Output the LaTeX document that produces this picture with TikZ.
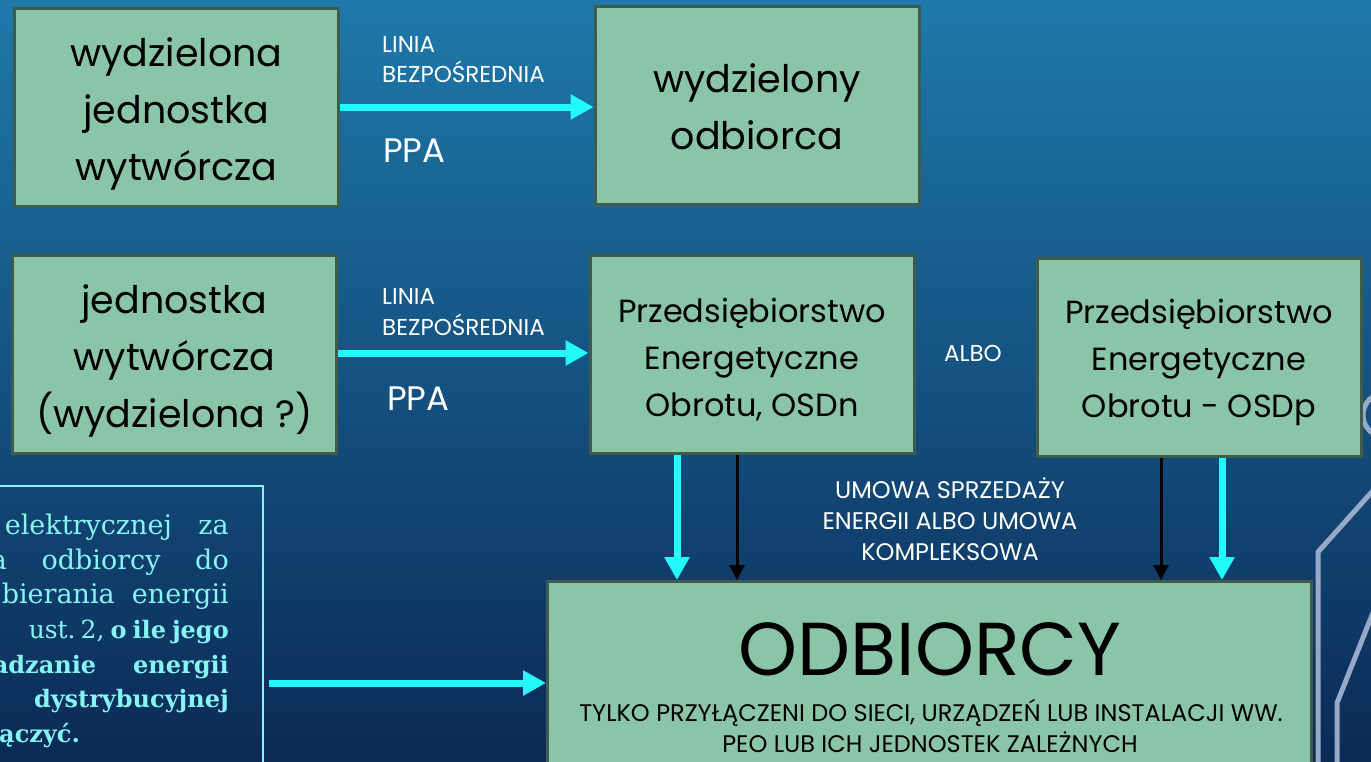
\documentclass[tikz,border=0pt]{standalone}
\usepackage{fontspec}
\newfontfamily\pop{Poppins}
\newfontfamily\serifL{DejaVu Serif}
\usetikzlibrary{arrows.meta,calc}
\definecolor{bgtop}{HTML}{1E79AA}
\definecolor{bgbot}{HTML}{0B2A56}
\definecolor{boxfill}{HTML}{8BC5A8}
\definecolor{boxline}{HTML}{3F5B4B}
\definecolor{cyanarr}{HTML}{22FAFC}
\definecolor{lbox}{HTML}{86F4F2}
\definecolor{deco}{HTML}{98A9C7}
\newcommand{\tstr}[1]{\rule{0pt}{#1}}
\begin{document}
\begin{tikzpicture}[x=1pt,y=-1pt,
  gbox/.style={draw=boxline,fill=boxfill,line width=3pt,inner sep=0pt,align=center,text=black,minimum width=324pt,minimum height=198pt},
  bigtxt/.style={font=\pop\fontsize{38}{57}\selectfont},
  midtxt/.style={font=\pop\fontsize{32}{47}\selectfont},
  lbl/.style={text=white,inner sep=0pt,font=\pop\fontsize{23}{30}\selectfont},
  umowa/.style={text=white,inner sep=0pt,font=\pop\fontsize{24}{30}\selectfont},
  ppa/.style={text=white,inner sep=0pt,font=\pop\fontsize{34}{40}\selectfont},
  subtxt/.style={text=black,inner sep=0pt,font=\pop\fontsize{24}{31}\selectfont},
  sertxt/.style={text=lbox,inner sep=0pt,font=\serifL\fontsize{27}{34}\selectfont,anchor=base east},
  serbold/.style={font=\serifL\bfseries\fontsize{24}{34}\selectfont},
  cyarrow/.style={draw=cyanarr,line width=7pt,-{Triangle[length=23pt,width=24pt]}},
  bkarrow/.style={draw=black,line width=3pt,-{Triangle[length=15pt,width=15pt]}},
  decoline/.style={draw=deco,line width=5pt}]
\useasboundingbox (0,0) rectangle (1371,761);
\shade[top color=bgtop,bottom color=bgbot] (0,0) rectangle (1371,761);
% decorations at the right edge
\draw[decoline] (1378,485) -- (1318,552) -- (1318,775);
\draw[decoline] (1378,600) -- (1337,703) -- (1337,775);
\draw[decoline] (1385,415) circle (22pt);
% boxes
\node[gbox,bigtxt] (A) at (176.5,107.5) {\tstr{42pt}wydzielona\\jednostka\\wytwórcza};
\node[gbox,bigtxt] (B) at (757,105.5) {\tstr{32pt}wydzielony\\odbiorca};
\node[gbox,bigtxt] (C) at (174.5,354.5) {\tstr{42pt}jednostka\\wytwórcza\\(wydzielona ?)};
\node[gbox,midtxt] (D) at (752,354.5) {\tstr{34pt}Przedsiębiorstwo\\Energetyczne\\Obrotu, OSDn};
\node[gbox,midtxt] (E) at (1199,357.5) {\tstr{34pt}Przedsiębiorstwo\\Energetyczne\\Obrotu - OSDp};
\node[gbox,minimum width=764pt,minimum height=207pt] (F) at (929.5,685) {};
\node[text=black,inner sep=0pt,font=\pop\fontsize{75}{80}\selectfont,anchor=base] (Ft) at (930,675) {ODBIORCY};
\node[subtxt,anchor=base] (Fs1) at (931,721) {TYLKO PRZYŁĄCZENI DO SIECI, URZĄDZEŃ LUB INSTALACJI WW.};
\node[subtxt,anchor=base] (Fs2) at (930,752) {PEO LUB ICH JEDNOSTEK ZALEŻNYCH};
% left text box
\node[draw=lbox,line width=1.5pt,minimum width=283pt,minimum height=314pt,inner sep=0pt] (L) at (121.5,643) {};
\node[sertxt] (l1) at (229,534) {\makebox[224pt][s]{elektrycznej za}};
\node[sertxt] (l2) at (229,569) {\makebox[238pt][s]{a odbiorcy do}};
\node[sertxt] (l3) at (229,603) {\makebox[227pt][s]{bierania energii}};
\node[sertxt] (l4) at (229,638) {{\fontsize{25}{34}\selectfont ust.\hspace{5pt}2,}\hspace{6pt}{\serifL\bfseries\fontsize{24}{34}\selectfont o\hspace{6pt}ile\hspace{6pt}jego}};
\node[sertxt,serbold] (l5) at (229,673) {\makebox[236pt][s]{adzanie energii}};
\node[sertxt,serbold] (l6) at (229,707) {dystrybucyjnej};
\node[sertxt,serbold,anchor=base west] (l7) at (-1,742) {ączyć.};
% labels
\node[lbl,anchor=base west] (t1) at (382,52) {LINIA};
\node[lbl,anchor=base west] (t2) at (382,82) {BEZPOŚREDNIA};
\node[ppa,anchor=base west] (t3) at (383,162) {PPA};
\node[lbl,anchor=base west] (t4) at (382,304) {LINIA};
\node[lbl,anchor=base west] (t5) at (382,335) {BEZPOŚREDNIA};
\node[ppa,anchor=base west] (t6) at (387,410) {PPA};
\node[lbl] (albo) at (973,353) {ALBO};
\node[umowa,anchor=base] (u1) at (950,498) {UMOWA SPRZEDAŻY};
\node[umowa,anchor=base] (u2) at (950,529) {ENERGII ALBO UMOWA};
\node[umowa,anchor=base] (u3) at (950,560) {KOMPLEKSOWA};
% connectors
\coordinate (ya) at (0,107);
\coordinate (yc) at (0,353);
\coordinate (yl) at (0,683);
\coordinate (x1) at (677,0);
\coordinate (x2) at (737,0);
\coordinate (x3) at (1161,0);
\coordinate (x4) at (1222,0);
\draw[cyarrow] (A.east |- ya) -- (B.west |- ya);
\draw[cyarrow] (C.east |- yc) -- (D.west |- yc);
\draw[cyarrow] (x1 |- D.south) -- (x1 |- F.north);
\draw[bkarrow] (x2 |- D.south) -- (x2 |- F.north);
\draw[bkarrow] (x3 |- E.south) -- (x3 |- F.north);
\draw[cyarrow] (x4 |- E.south) -- (x4 |- F.north);
\draw[cyarrow,shorten <=5pt] (L.east |- yl) -- (F.west |- yl);
\end{tikzpicture}
\end{document}
